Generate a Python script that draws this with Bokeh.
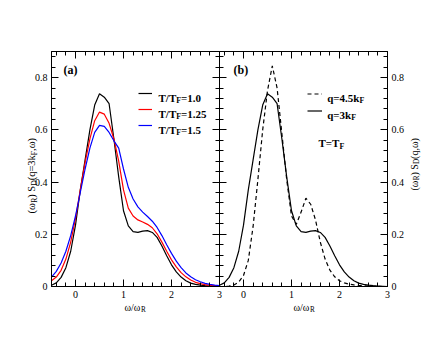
import math
from bokeh.plotting import figure
from bokeh.models import LinearAxis, FixedTicker, Range1d, Label, Legend, LegendItem
from bokeh.layouts import row, column
from bokeh.embed import file_html
from bokeh.resources import INLINE

# ---------------- data ----------------
omega = [-0.5, -0.4, -0.3, -0.2, -0.1, 0.0, 0.1, 0.2, 0.3, 0.4, 0.5, 0.6, 0.7, 0.8, 0.9,
         1.0, 1.1, 1.2, 1.3, 1.4, 1.5, 1.6, 1.7, 1.8, 1.9, 2.0, 2.1, 2.2, 2.3, 2.4, 2.5,
         2.6, 2.7, 2.8, 2.9, 3.0]

# panel (a): q = 3 k_F, different temperatures
s_T100 = [0.005, 0.014, 0.035, 0.072, 0.135, 0.235, 0.37, 0.485, 0.60, 0.695, 0.738, 0.725,
          0.70, 0.565, 0.42, 0.29, 0.232, 0.21, 0.207, 0.212, 0.214, 0.207, 0.188, 0.155,
          0.118, 0.083, 0.056, 0.036, 0.022, 0.013, 0.008, 0.005, 0.003, 0.002, 0.001, 0.0]
s_T125 = [0.022, 0.036, 0.062, 0.105, 0.17, 0.26, 0.37, 0.475, 0.565, 0.635, 0.668, 0.66,
          0.625, 0.565, 0.48, 0.37, 0.30, 0.27, 0.255, 0.247, 0.238, 0.225, 0.202, 0.17,
          0.135, 0.102, 0.075, 0.053, 0.037, 0.025, 0.016, 0.011, 0.007, 0.004, 0.003, 0.002]
s_T150 = [0.036, 0.058, 0.09, 0.135, 0.195, 0.27, 0.36, 0.45, 0.53, 0.59, 0.617, 0.613,
          0.59, 0.558, 0.53, 0.45, 0.38, 0.335, 0.305, 0.285, 0.268, 0.25, 0.226, 0.195,
          0.16, 0.127, 0.097, 0.072, 0.052, 0.037, 0.026, 0.018, 0.012, 0.008, 0.005, 0.003]

# panel (b): T = T_F, two wave vectors
s_q45 = [0.0, 0.0, 0.002, 0.006, 0.017, 0.042, 0.10, 0.23, 0.41, 0.60, 0.75, 0.845,
         0.76, 0.585, 0.41, 0.27, 0.238, 0.285, 0.338, 0.315, 0.255, 0.17, 0.105, 0.063,
         0.037, 0.022, 0.014, 0.009, 0.006, 0.004, 0.003, 0.002, 0.001, 0.001, 0.0, 0.0]
s_q30 = s_T100

x_ticks = [0, 1, 2, 3]
y_ticks = [0, 0.2, 0.4, 0.6, 0.8]
y_tick_labels = ["0", "0.2", "0.4", "0.6", "0.8"]
temps_a = ["1.0", "1.25", "1.5"]
colors_a = ["#000000", "#ff0000", "#0000ff"]
q_labels_b = ["4.5", "3"]

FONT = "Liberation Serif"

x_minor = [round(-0.4 + 0.2 * i, 1) for i in range(18) if abs(round(-0.4 + 0.2 * i, 1) % 1) > 1e-9]
y_minor = [round(0.04 * i, 2) for i in range(1, 23) if i % 5 != 0]

W_REG = {'(': .333, ')': .333, 'ω': .686, ' ': .25, 'S': .556, 'D': .722, 'R': .667,
         'q': .5, '=': .564, 'k': .5, 'F': .556, ',': .25, '/': .278, 'T': .611, '.': .25}
W_BOLD = {'(': .333, ')': .333, 'T': .667, '/': .278, '=': .57, '.': .25, 'F': .611,
          'q': .556, 'k': .556, 'a': .5, 'b': .556}


def text_width(s, size, bold):
    tbl = W_BOLD if bold else W_REG
    return sum(tbl.get(c, 0.5) for c in s) * size


def rich(p, x, y, pieces, size, bold=False, angle=0.0):
    adv = 0.0
    for txt, sub in pieces:
        fs = size * 0.72 if sub else size
        shift = size * 0.28 if sub else 0.0
        if angle == 0:
            xo, yo = adv, -shift
        else:
            xo, yo = shift, adv
        p.add_layout(Label(x=x, y=y, x_offset=xo, y_offset=yo, text=txt, angle=angle,
                           text_font=FONT, text_font_size=f"{fs:.1f}px",
                           text_font_style="bold" if bold else "normal",
                           text_baseline="alphabetic", text_align="left",
                           text_color="black"))
        adv += text_width(txt, fs, bold)


def style_axis(ax, labels=True):
    ax.axis_line_color = "black"
    ax.axis_line_width = 1
    ax.major_tick_in = 7
    ax.major_tick_out = 0
    ax.minor_tick_in = 4
    ax.minor_tick_out = 0
    ax.major_tick_line_color = "black"
    ax.minor_tick_line_color = "black"
    ax.major_label_text_font = FONT
    ax.major_label_text_color = "black"
    ax.major_label_text_font_size = "10px"
    ax.major_label_standoff = 4
    if not labels:
        ax.major_label_text_font_size = "0px"
        ax.major_label_text_color = None
        ax.major_label_standoff = 0


def xt():
    return FixedTicker(ticks=x_ticks, minor_ticks=x_minor)


def yt():
    return FixedTicker(ticks=y_ticks, minor_ticks=y_minor)


y_over = {t: l for t, l in zip(y_ticks, y_tick_labels)}


def make_fig(right_side):
    p = figure(frame_width=168, frame_height=235,
               x_range=Range1d(-0.5, 3.0), y_range=Range1d(0, 0.9),
               output_backend="svg", toolbar_location=None,
               y_axis_location="right" if right_side else "left",
               min_border_left=0 if right_side else 51,
               min_border_right=40 if right_side else 8,
               min_border_top=51, min_border_bottom=40)
    p.xgrid.visible = False
    p.ygrid.visible = False
    p.outline_line_color = "black"
    p.xaxis.ticker = xt()
    p.yaxis.ticker = yt()
    p.yaxis.major_label_overrides = y_over
    for ax in p.xaxis:
        style_axis(ax)
    for ax in p.yaxis:
        style_axis(ax)
    top = LinearAxis(ticker=xt())
    style_axis(top, labels=False)
    p.add_layout(top, "above")
    side = LinearAxis(ticker=yt())
    style_axis(side, labels=False)
    p.add_layout(side, "left" if right_side else "right")
    return p


def key_legend(renderers, loc, h, w):
    return Legend(items=[LegendItem(label=" ", renderers=[r]) for r in renderers],
                  location=loc, glyph_width=w, glyph_height=h, label_height=h,
                  label_width=0, spacing=0, padding=0, margin=0, label_standoff=0,
                  border_line_color=None, background_fill_alpha=0,
                  label_text_font_size="1px", label_text_color=None)


# ---------------- panel (a) ----------------
pa = make_fig(False)
ra = []
for s, c in zip([s_T100, s_T125, s_T150], colors_a):
    ra.append(pa.line(omega, s, line_color=c, line_width=1.2))
pa.add_layout(key_legend(ra, (87, 153), 16, 14))
for i, t in enumerate(temps_a):
    rich(pa, 1.729, 0.7238 - i * 0.0613, [("T/T", 0), ("F", 1), ("=" + t, 0)], 11, bold=True)
rich(pa, -0.25, 0.831, [("(a)", 0)], 12, bold=True)

# ---------------- panel (b) ----------------
pb = make_fig(True)
pb.border_fill_alpha = 0
pb.background_fill_alpha = 0
pb.margin = (0, 0, 0, -8)
rb1 = pb.line(omega, s_q45, line_color="black", line_width=1.2, line_dash="4 3")
rb2 = pb.line(omega, s_q30, line_color="black", line_width=1.2)
pb.add_layout(key_legend([rb1, rb2], (88, 167), 17, 15))
for i, q in enumerate(q_labels_b):
    rich(pb, 1.744, 0.7238 - i * 0.0651, [("q=" + q + "k", 0), ("F", 1)], 11, bold=True)
rich(pb, 1.5625, 0.5477, [("T=T", 0), ("F", 1)], 11, bold=True)
rich(pb, -0.2083, 0.831, [("(b)", 0)], 12, bold=True)

# ---------------- overlay for the axis titles (outside the frames) ----------------
W, H = 427, 326
ov = figure(frame_width=W, frame_height=H, x_range=Range1d(0, W), y_range=Range1d(H, 0),
            x_axis_type=None, y_axis_type=None, output_backend="svg", toolbar_location=None,
            min_border=0, outline_line_color=None)
ov.background_fill_alpha = 0
ov.border_fill_alpha = 0
ov.margin = (-H, 0, 0, 0)
rich(ov, 124, 307, [("ω/ω", 0), ("R", 1)], 10)
rich(ov, 293, 307, [("ω/ω", 0), ("R", 1)], 10)
rich(ov, 31, 213, [("(ω", 0), ("R", 1), (") S", 0), ("D", 1), ("(q=3k", 0), ("F", 1), (",ω)", 0)],
     10.5, angle=math.pi / 2)
rich(ov, 414, 190, [("(ω", 0), ("R", 1), (") S", 0), ("D", 1), ("(q,ω)", 0)],
     10, angle=math.pi / 2)

layout = column(row(pa, pb), ov)
open("out.html", "w").write(file_html(layout, INLINE))
